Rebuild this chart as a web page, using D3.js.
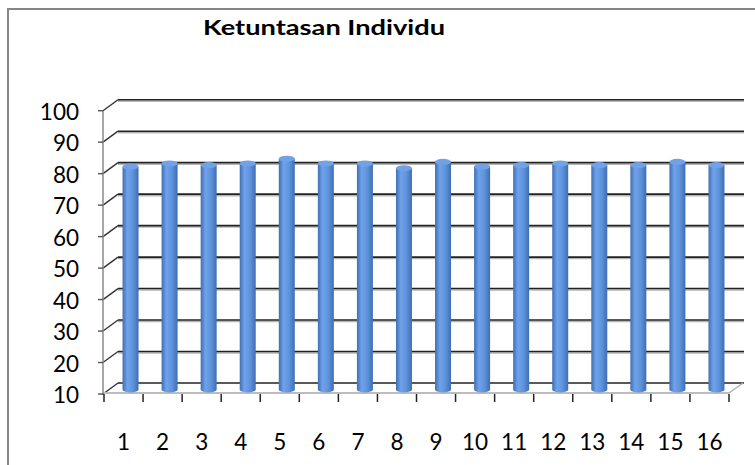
<!DOCTYPE html>
<html>
<head>
<meta charset="utf-8">
<script src="https://cdn.jsdelivr.net/npm/d3@7"></script>
<style>
  body { margin: 0; background: #fff; }
  svg { display: block; font-family: Lato, "Open Sans", sans-serif; }
</style>
</head>
<body>
<svg id="chart" width="755" height="465"></svg>
<script>
// chart values
var titleText = 'Ketuntasan Individu';
var categories = ['1','2','3','4','5','6','7','8','9','10','11','12','13','14','15','16'];
var scores = [80.5, 81.5, 81, 81.5, 83, 81.5, 81.5, 80, 82, 80.5, 81, 81.5, 81, 81, 82, 81];
var yTicks = [10, 20, 30, 40, 50, 60, 70, 80, 90, 100];

var svg = d3.select('#chart');

// depth of the 3d box (back wall is shifted right/up)
var depthX = 14, depthY = -11;

var x = d3.scaleBand().domain(categories).range([104, 729]);
var yFront = d3.scaleLinear().domain([10, 100]).range([394, 110.7]);

// chart frame
svg.append('rect')
  .attr('x', 8).attr('y', 9)
  .attr('width', 770).attr('height', 480)
  .attr('fill', 'none').attr('stroke', '#868686').attr('stroke-width', 2);

var defs = svg.append('defs');
var grad = defs.append('linearGradient').attr('id', 'cyl')
  .attr('x1', '0%').attr('x2', '100%').attr('y1', '0%').attr('y2', '0%');
grad.append('stop').attr('offset', '0%').attr('stop-color', '#3f6fb3');
grad.append('stop').attr('offset', '30%').attr('stop-color', '#6fa2ea');
grad.append('stop').attr('offset', '65%').attr('stop-color', '#5e93dc');
grad.append('stop').attr('offset', '100%').attr('stop-color', '#3f6eb1');

var x0 = x.range()[0], x1 = x.range()[1];

// back wall grid lines + slants on the left wall
var grid = svg.append('g');
yTicks.forEach(function(t) {
  var yb = yFront(t) + depthY;
  if (t > 10) {
    grid.append('line')
      .attr('x1', x0 + depthX).attr('x2', x1 + depthX + 1)
      .attr('y1', yb + 1.5).attr('y2', yb + 1.5)
      .attr('stroke', '#b5b5b5').attr('stroke-width', 1.5);
  }
  grid.append('line')
    .attr('x1', x0 + depthX).attr('x2', x1 + depthX + 1)
    .attr('y1', yb).attr('y2', yb)
    .attr('stroke', '#222').attr('stroke-width', 1.6);
  grid.append('line')
    .attr('x1', x0 - 1).attr('x2', x0 + depthX)
    .attr('y1', yFront(t)).attr('y2', yb)
    .attr('stroke', '#333').attr('stroke-width', 1.4);
});

// floor: right slant and front edge
grid.append('line')
  .attr('x1', x1).attr('x2', x1 + depthX)
  .attr('y1', yFront(10) - 1).attr('y2', yFront(10) + depthY)
  .attr('stroke', '#b0b0b0').attr('stroke-width', 1.5);
grid.append('line')
  .attr('x1', x0).attr('x2', x1)
  .attr('y1', yFront(10) - 1).attr('y2', yFront(10) - 1)
  .attr('stroke', '#bdbdbd').attr('stroke-width', 2);

// left axis
svg.append('line')
  .attr('x1', x0 - 1).attr('x2', x0 - 1)
  .attr('y1', yFront(100)).attr('y2', yFront(10) + 1)
  .attr('stroke', '#8a8a8a').attr('stroke-width', 1.5);
svg.append('g').selectAll('line').data(yTicks).join('line')
  .attr('x1', x0 - 6).attr('x2', x0 - 1)
  .attr('y1', function(d) { return yFront(d); })
  .attr('y2', function(d) { return yFront(d); })
  .attr('stroke', '#555').attr('stroke-width', 1.4);
svg.append('g').selectAll('text').data(yTicks).join('text')
  .attr('x', 79)
  .attr('y', function(d) { return yFront(d) + 9; })
  .attr('text-anchor', 'end')
  .attr('font-size', 22.5)
  .attr('fill', '#000')
  .text(function(d) { return d; });

// cylinders sit half-way into the depth
var cylW = 16, capRy = 3;
var midY = function(v) { return yFront(v) + depthY / 2; };
var bars = svg.append('g').selectAll('g').data(scores).join('g')
  .attr('transform', function(d, i) {
    return 'translate(' + (x(categories[i]) + x.bandwidth() / 2 + depthX / 2) + ',0)';
  });
bars.append('path')
  .attr('fill', 'url(#cyl)')
  .attr('d', function(d) {
    var top = midY(d), bot = midY(10) + 1, r = cylW / 2;
    return 'M' + (-r) + ',' + top +
      'L' + (-r) + ',' + bot +
      'A' + r + ',' + capRy + ' 0 0 0 ' + r + ',' + bot +
      'L' + r + ',' + top + 'Z';
  });
bars.append('ellipse')
  .attr('cx', 0)
  .attr('cy', function(d) { return midY(d); })
  .attr('rx', cylW / 2).attr('ry', capRy)
  .attr('fill', '#72a2e6');

// bottom axis ticks and labels
var edges = categories.map(function(c) { return x(c); }).concat([x1]);
svg.append('g').selectAll('line').data(edges).join('line')
  .attr('x1', function(d) { return d; }).attr('x2', function(d) { return d; })
  .attr('y1', yFront(10)).attr('y2', yFront(10) + 8)
  .attr('stroke', '#222').attr('stroke-width', 1.5);
svg.append('g').selectAll('text').data(categories).join('text')
  .attr('x', function(d) { return x(d) + x.bandwidth() / 2; })
  .attr('y', 450)
  .attr('text-anchor', 'middle')
  .attr('font-size', 22.5)
  .attr('fill', '#000')
  .text(function(d) { return d; });

// title
svg.append('text')
  .attr('x', 324).attr('y', 35)
  .attr('text-anchor', 'middle')
  .attr('font-size', 21).attr('font-weight', 'bold')
  .attr('textLength', 242).attr('lengthAdjust', 'spacingAndGlyphs')
  .text(titleText);
</script>
</body>
</html>
